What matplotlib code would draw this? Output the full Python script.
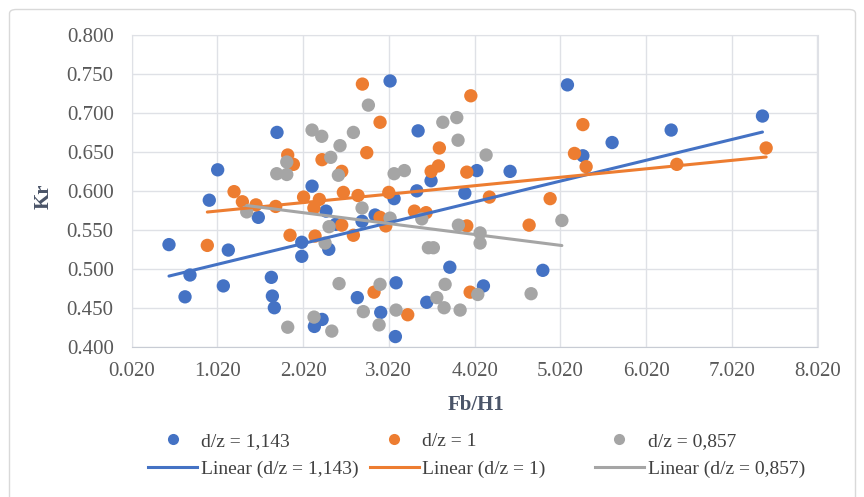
import numpy as np
import matplotlib
matplotlib.use('Agg')
import matplotlib.pyplot as plt
from matplotlib.lines import Line2D
from matplotlib.patches import FancyBboxPatch

# Fb/H1 and Kr readings for each d/z ratio
fb_h1_1143 = [0.455, 0.700, 0.642, 1.089, 1.147, 0.925, 1.023, 1.715, 1.497, 1.649,
              1.661, 1.684, 2.004, 2.004, 2.124, 2.151, 2.241, 2.287, 2.400, 2.319,
              2.652, 2.707, 2.859, 2.925, 3.034, 3.081, 3.104, 3.096, 3.346, 3.361,
              3.512, 3.462, 3.731, 3.906, 4.046, 4.123, 4.434, 4.816, 5.103, 5.283,
              5.624, 6.313, 7.378]
kr_1143 = [0.531, 0.492, 0.464, 0.478, 0.524, 0.588, 0.627, 0.675, 0.566, 0.489,
           0.465, 0.450, 0.534, 0.516, 0.606, 0.426, 0.435, 0.574, 0.557, 0.525,
           0.463, 0.561, 0.569, 0.444, 0.741, 0.590, 0.482, 0.413, 0.600, 0.677,
           0.613, 0.457, 0.502, 0.597, 0.626, 0.478, 0.625, 0.498, 0.736, 0.645,
           0.662, 0.678, 0.696]

fb_h1_1 = [0.902, 1.214, 1.311, 1.470, 1.700, 1.840, 1.906, 1.867, 2.025, 2.145,
           2.209, 2.159, 2.240, 2.470, 2.489, 2.470, 2.606, 2.660, 2.711, 2.762,
           2.917, 2.917, 2.984, 3.019, 2.847, 3.240, 3.318, 3.454, 3.513, 3.598,
           3.609, 3.929, 3.976, 3.929, 3.968, 4.193, 4.656, 4.901, 5.185, 5.283,
           5.321, 6.379, 7.421]
kr_1 = [0.530, 0.599, 0.586, 0.582, 0.580, 0.646, 0.634, 0.543, 0.592, 0.578,
        0.589, 0.542, 0.640, 0.625, 0.598, 0.556, 0.543, 0.594, 0.737, 0.649,
        0.688, 0.566, 0.555, 0.598, 0.470, 0.441, 0.574, 0.572, 0.625, 0.632,
        0.655, 0.624, 0.722, 0.555, 0.470, 0.592, 0.556, 0.590, 0.648, 0.685,
        0.631, 0.634, 0.655]

fb_h1_0857 = [1.362, 1.712, 1.829, 1.829, 1.840, 2.124, 2.147, 2.237, 2.276, 2.322,
              2.342, 2.354, 2.431, 2.439, 2.450, 2.606, 2.707, 2.722, 2.781, 2.906,
              2.917, 3.034, 3.081, 3.104, 3.201, 3.404, 3.481, 3.539, 3.579, 3.649,
              3.664, 3.676, 3.812, 3.827, 3.831, 3.851, 4.057, 4.084, 4.084, 4.154,
              4.679, 5.038]
kr_0857 = [0.573, 0.622, 0.637, 0.621, 0.425, 0.678, 0.438, 0.670, 0.533, 0.554,
           0.643, 0.420, 0.620, 0.481, 0.658, 0.675, 0.578, 0.445, 0.710, 0.428,
           0.480, 0.565, 0.622, 0.447, 0.626, 0.564, 0.527, 0.527, 0.463, 0.688,
           0.450, 0.480, 0.694, 0.665, 0.556, 0.447, 0.467, 0.546, 0.533, 0.646,
           0.468, 0.562]

series_names = ['d/z = 1,143', 'd/z = 1', 'd/z = 0,857']
series_colors = ['#4472C4', '#ED7D31', '#A5A5A5']

x_ticks = np.arange(0.02, 8.03, 1.0)
y_ticks = np.arange(0.40, 0.801, 0.05)

plt.rcParams['font.family'] = ['Liberation Serif', 'DejaVu Serif']

fig = plt.figure(figsize=(8.64, 4.97), dpi=100)
W, H = 864.0, 497.0
ax = fig.add_axes([131.7 / W, 1 - 346.7 / H, 685.8 / W, 311.7 / H])

# chart area outline
fig.patches.append(FancyBboxPatch((9.5 / W, -0.05), 846 / W, 1.05 - 9.5 / H,
                                  boxstyle='round,pad=0,rounding_size=0.008',
                                  transform=fig.transFigure, fill=False,
                                  edgecolor='#d9d9d9', linewidth=1.0))

data = [(fb_h1_1143, kr_1143), (fb_h1_1, kr_1), (fb_h1_0857, kr_0857)]

for (xs, ys), color in zip(data, series_colors):
    ax.scatter(xs, ys, s=92, color=color, edgecolors='none', zorder=3)

# linear trendlines over each series' range
for (xs, ys), color in zip(data, series_colors):
    xs = np.array(xs)
    slope, icpt = np.polyfit(xs, ys, 1)
    xx = np.array([xs.min(), xs.max()])
    ax.plot(xx, slope * xx + icpt, color=color, linewidth=2.2,
            solid_capstyle='round', zorder=4)
    print(color, slope, icpt)

ax.set_xlim(0.02, 8.02)
ax.set_ylim(0.40, 0.80)
ax.set_xticks(x_ticks)
ax.set_yticks(y_ticks)
ax.set_xticklabels(['%.3f' % v for v in x_ticks])
ax.set_yticklabels(['%.3f' % v for v in y_ticks])
ax.tick_params(length=0, labelsize=15, labelcolor='#595959')
ax.tick_params(axis='y', pad=13)
ax.tick_params(axis='x', pad=11)
ax.grid(True, color='#dfe1e6', linewidth=1.0)
ax.set_axisbelow(True)
for side in ['top', 'right', 'left']:
    ax.spines[side].set_color('#dfe1e6')
ax.spines['bottom'].set_color('#c8ccd4')

ax.text(-0.129, 0.483, 'Kr', transform=ax.transAxes, rotation=90,
        ha='center', va='center', fontsize=15, fontweight='bold', color='#4a5468')
ax.text(0.502, -0.187, 'Fb/H1', transform=ax.transAxes,
        ha='center', va='center', fontsize=15, fontweight='bold', color='#4a5468')

# one legend column per series: marker entry above its trendline entry
col_x = [148.3, 370.0, 595.0]
for name, color, cx in zip(series_names, series_colors, col_x):
    handles = [Line2D([], [], linestyle='', marker='o', markersize=8,
                      markerfacecolor=color, markeredgecolor='none'),
               Line2D([], [], color=color, linewidth=2.2)]
    labels = [name, 'Linear (%s)' % name]
    fig.legend(handles, labels, loc='center left',
               bbox_to_anchor=(cx / W, 1 - 455.3 / H), frameon=False,
               borderpad=0, borderaxespad=0, handlelength=2.5,
               handletextpad=0.2, labelspacing=0.55, fontsize=14,
               labelcolor='#404040')

fig.savefig('out.png', dpi=100)
